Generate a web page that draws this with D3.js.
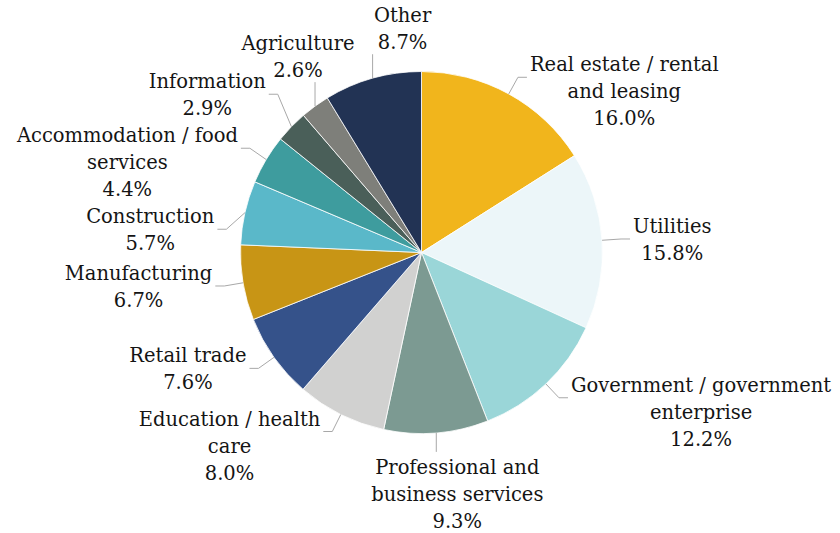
<!DOCTYPE html>
<html>
<head>
<meta charset="utf-8">
<script src="https://cdn.jsdelivr.net/npm/d3@7"></script>
<style>
  html, body { margin: 0; padding: 0; background: #fff; }
  svg { display: block; }
  .label text { font-family: "DejaVu Serif", serif; font-size: 19.5px; fill: #141414; }
</style>
</head>
<body>
<svg id="chart" width="840" height="533"></svg>
<script>
// Share of output by sector, clockwise from 12 o'clock
const sectors = [
  "Real estate / rental and leasing", "Utilities", "Government / government enterprise",
  "Professional and business services", "Education / health care", "Retail trade",
  "Manufacturing", "Construction", "Accommodation / food services",
  "Information", "Agriculture", "Other"
];
const labelLines = [
  ["Real estate / rental", "and leasing"], ["Utilities"], ["Government / government", "enterprise"],
  ["Professional and", "business services"], ["Education / health", "care"], ["Retail trade"],
  ["Manufacturing"], ["Construction"], ["Accommodation / food", "services"],
  ["Information"], ["Agriculture"], ["Other"]
];
const shares = [16.0, 15.8, 12.2, 9.3, 8.0, 7.6, 6.7, 5.7, 4.4, 2.9, 2.6, 8.7];
const sliceColors = [
  "#f1b51c", "#ecf6f9", "#9ad6d8", "#7c9a92", "#d1d1d0", "#35528a",
  "#c89515", "#5ab8c9", "#3e9c9e", "#4a5f59", "#7e7f7a", "#223354"
];
// how each label is attached: beside the pie, above it or below it
const labelPlacement = ["side", "side", "side", "bottom", "side", "side",
                        "side", "side", "side", "side", "top", "top"];
// sideways offset of stacked (top / bottom) labels so neighbours do not collide
const labelShift = [0, 0, 0, 21, 0, 0, 0, 0, 0, 0, -17, 30];

const data = sectors.map((name, i) => ({
  name, value: shares[i], color: sliceColors[i],
  lines: labelLines[i].concat([d3.format(".1f")(shares[i]) + "%"]),
  place: labelPlacement[i], shift: labelShift[i]
}));

const cx = 421.5, cy = 252.5, radius = 181;
const lineH = 27, elbowR = 200, hook = 9, gap = 3, anchorDrop = 13;
const baselineOff = 7;

const svg = d3.select("#chart");
const g = svg.append("g").attr("transform", `translate(${cx},${cy})`);

const pie = d3.pie().sort(null).value(d => d.value);
const arcs = pie(data);
const arc = d3.arc().innerRadius(0).outerRadius(radius);

g.append("g").selectAll("path")
  .data(arcs)
  .join("path")
  .attr("d", arc)
  .attr("fill", d => d.data.color)
  .attr("stroke", "#ffffff")
  .attr("stroke-width", 0.8)
  .attr("stroke-linejoin", "round");

// label geometry
const mid = d => (d.startAngle + d.endAngle) / 2;
const items = arcs.map(d => {
  const a = mid(d);
  const edge = [radius * Math.sin(a), -radius * Math.cos(a)];
  const elbow = [elbowR * Math.sin(a), -elbowR * Math.cos(a)];
  const n = d.data.lines.length;
  return {
    d, a, edge, elbow, n,
    side: Math.sin(a) > 0 ? 1 : -1,
    h: (n - 1) * lineH,
    y0: elbow[1] - anchorDrop
  };
});

// stack side labels so blocks never overlap (pool-adjacent merge)
function resolve(list) {
  list.sort((p, q) => p.y0 - q.y0);
  const clusters = [];
  list.forEach(it => {
    const natTop = it.y0 - lineH / 2;
    clusters.push({ members: [{ it, off: 0, natTop }], top: natTop, height: it.h + lineH });
    while (clusters.length > 1) {
      const b = clusters[clusters.length - 1];
      const a = clusters[clusters.length - 2];
      if (a.top + a.height <= b.top) break;
      b.members.forEach(m => a.members.push({ it: m.it, off: m.off + a.height, natTop: m.natTop }));
      a.height += b.height;
      a.top = d3.mean(a.members, m => m.natTop - m.off);
      clusters.pop();
    }
  });
  clusters.forEach(c => c.members.forEach(m => { m.it.y0 = c.top + m.off + lineH / 2; }));
}
resolve(items.filter(it => it.d.data.place === "side" && it.side > 0));
resolve(items.filter(it => it.d.data.place === "side" && it.side < 0));

const labels = g.append("g").attr("class", "label");

items.forEach(it => {
  const place = it.d.data.place;
  const grp = labels.append("g");
  const text = grp.append("text").attr("text-anchor", "middle");
  const spans = it.d.data.lines.map(ln => text.append("tspan").text(ln));
  const widths = spans.map(s => s.node().getComputedTextLength());
  const blockW = d3.max(widths);

  let pts, tx, firstY;
  if (place === "side") {
    const ey = it.y0 + anchorDrop;
    const ex = it.elbow[0];
    pts = [it.edge, [ex, ey], [ex + it.side * hook, ey]];
    tx = ex + it.side * (hook + gap + blockW / 2);
    firstY = it.y0;
  } else if (place === "top") {
    const end = it.edge[1] - 24;
    pts = [it.edge, [it.edge[0], end]];
    tx = it.edge[0] + it.d.data.shift;
    firstY = end - 12.5 - it.h;
  } else {
    const end = it.edge[1] + 19;
    pts = [it.edge, [it.edge[0], end]];
    tx = it.edge[0] + it.d.data.shift;
    firstY = end + 15;
  }

  spans.forEach((s, i) => s.attr("x", tx).attr("y", firstY + i * lineH + baselineOff));

  grp.insert("path", "text")
    .attr("d", d3.line()(pts))
    .attr("fill", "none")
    .attr("stroke", "#a8a8a8")
    .attr("stroke-width", 1);
});
</script>
</body>
</html>
